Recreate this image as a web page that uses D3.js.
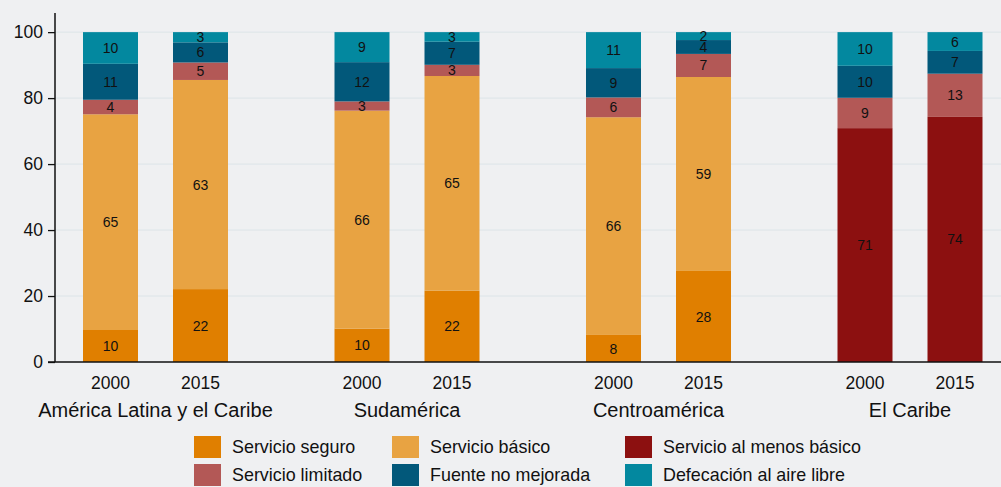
<!DOCTYPE html>
<html>
<head>
<meta charset="utf-8">
<script src="https://cdn.jsdelivr.net/npm/d3@7"></script>
<style>
  html, body { margin: 0; padding: 0; background: #eff0f2; }
  svg { display: block; font-family: "Liberation Sans", Arial, sans-serif; }
</style>
</head>
<body>
<svg id="chart" width="1001" height="487"></svg>
<script>
// Acceso a saneamiento por región, 2000 y 2015 (% de la población)
const regions = ["América Latina y el Caribe", "Sudamérica", "Centroamérica", "El Caribe"];
const years = ["2000", "2015"];
const yTicks = [0, 20, 40, 60, 80, 100];

const seriesNames = [
  "Servicio seguro",
  "Servicio básico",
  "Servicio al menos básico",
  "Servicio limitado",
  "Fuente no mejorada",
  "Defecación al aire libre"
];
const seriesColors = ["#e07f00", "#e8a342", "#8c1010", "#b35856", "#02587a", "#03889f"];

// Values per bar, in order: region × year
const servicioSeguro    = [9.7, 22.1, 10.1, 21.6, 8.2, 27.6, 0, 0];
const servicioBasico    = [65.4, 63.4, 66.1, 65.1, 66.0, 58.8, 0, 0];
const alMenosBasico     = [0, 0, 0, 0, 0, 0, 70.9, 74.3];
const servicioLimitado  = [4.4, 5.3, 2.8, 3.4, 6.0, 7.0, 9.2, 13.1];
const fuenteNoMejorada  = [10.9, 6.1, 11.9, 7.0, 8.9, 4.2, 9.7, 6.9];
const defecacionAire    = [9.6, 3.1, 9.1, 2.9, 10.9, 2.4, 10.2, 5.7];

const seriesValues = [servicioSeguro, servicioBasico, alMenosBasico, servicioLimitado, fuenteNoMejorada, defecacionAire];

// Build one row per bar for d3.stack
const rows = [];
regions.forEach((r, ri) => {
  years.forEach((y, yi) => {
    const idx = ri * years.length + yi;
    const row = { region: r, year: y };
    seriesNames.forEach((s, si) => { row[s] = seriesValues[si][idx]; });
    rows.push(row);
  });
});

const svg = d3.select("#chart");
const margin = { left: 55, right: 0, top: 13, bottom: 125 };
const W = 1001, H = 487;
const plotBottom = H - margin.bottom; // 362

const y = d3.scaleLinear().domain([0, 105.8]).range([plotBottom, margin.top]);

const xGroup = d3.scalePoint().domain(regions).range([155.5, 910]);
const xYear = d3.scaleBand().domain(years).range([-72.5, 72.5]).paddingInner(35 / 90).paddingOuter(0);

const color = d3.scaleOrdinal().domain(seriesNames).range(seriesColors);

// Gridlines
svg.append("g")
  .selectAll("line")
  .data(yTicks.filter(d => d > 0))
  .join("line")
  .attr("x1", margin.left).attr("x2", W)
  .attr("y1", d => y(d)).attr("y2", d => y(d))
  .attr("stroke", "#dce4e8").attr("stroke-width", 1);

// Stacked bars
const stacked = d3.stack().keys(seriesNames)(rows);

const layers = svg.append("g")
  .selectAll("g")
  .data(stacked)
  .join("g")
  .attr("fill", d => color(d.key));

layers.selectAll("rect")
  .data(d => d.filter(p => p[1] - p[0] > 0))
  .join("rect")
  .attr("x", p => xGroup(p.data.region) + xYear(p.data.year))
  .attr("width", xYear.bandwidth())
  .attr("y", p => y(p[1]))
  .attr("height", p => y(p[0]) - y(p[1]));

// Segment value labels
const labels = svg.append("g")
  .attr("font-size", "14px")
  .attr("fill", "#111")
  .attr("text-anchor", "middle");

stacked.forEach(layer => {
  layer.filter(p => p[1] - p[0] > 0).forEach(p => {
    labels.append("text")
      .attr("x", xGroup(p.data.region) + xYear(p.data.year) + xYear.bandwidth() / 2)
      .attr("y", (y(p[0]) + y(p[1])) / 2)
      .attr("dy", "0.36em")
      .text(d3.format(".0f")(p[1] - p[0]));
  });
});

// Y axis
const yAxis = svg.append("g")
  .attr("transform", `translate(${margin.left},0)`)
  .call(d3.axisLeft(y).tickValues(yTicks).tickSize(7).tickPadding(5).tickFormat(d3.format("d")));
yAxis.select(".domain").attr("stroke", "#111").attr("stroke-width", 1.5)
  .attr("d", `M0,${margin.top}V${plotBottom}`);
yAxis.selectAll(".tick line").attr("stroke", "#111").attr("stroke-width", 1.3);
yAxis.selectAll(".tick text").attr("font-size", "17.5px").attr("fill", "#111")
  .attr("font-family", "Liberation Sans, Arial, sans-serif");

// X axis baseline
svg.append("line")
  .attr("x1", margin.left - 7).attr("x2", W)
  .attr("y1", plotBottom).attr("y2", plotBottom)
  .attr("stroke", "#111").attr("stroke-width", 1.5);

// Year labels
const yearG = svg.append("g").attr("font-size", "17.5px").attr("fill", "#111").attr("text-anchor", "middle");
rows.forEach(r => {
  yearG.append("text")
    .attr("x", xGroup(r.region) + xYear(r.year) + xYear.bandwidth() / 2)
    .attr("y", 388.5)
    .text(r.year);
});

// Region labels
svg.append("g").attr("font-size", "20px").attr("fill", "#111").attr("text-anchor", "middle")
  .selectAll("text")
  .data(regions)
  .join("text")
  .attr("x", d => xGroup(d))
  .attr("y", 417)
  .text(d => d);

// Legend: 3 columns × 2 rows
const legendCols = [194, 392, 625];
const legendRows = [436, 464];
const legend = svg.append("g");
seriesNames.forEach((s, i) => {
  const cx = legendCols[i % 3];
  const cy = legendRows[Math.floor(i / 3)];
  legend.append("rect")
    .attr("x", cx).attr("y", cy)
    .attr("width", 27).attr("height", 22)
    .attr("fill", color(s));
  legend.append("text")
    .attr("x", cx + 38).attr("y", cy + 11)
    .attr("dy", "0.36em")
    .attr("font-size", "17.9px").attr("fill", "#111")
    .text(s);
});
</script>
</body>
</html>
